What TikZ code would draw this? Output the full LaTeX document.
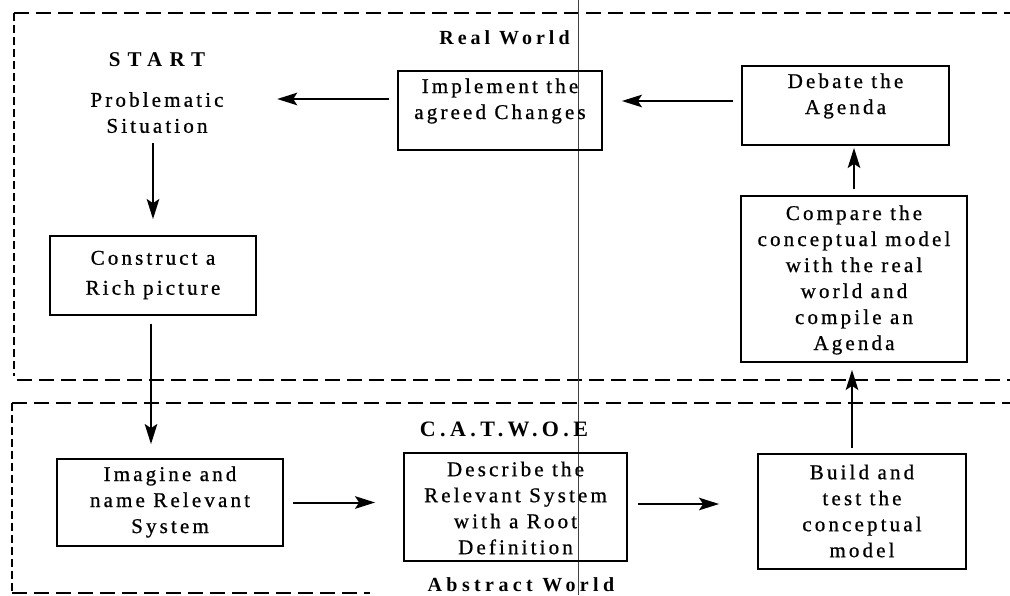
\documentclass[tikz,border=0pt]{standalone}
\usepackage{fontspec}
\setmainfont{Liberation Serif}
\newfontfamily\boxfont[LetterSpace=15,Ligatures=NoCommon,FakeBold=0.8]{Liberation Serif}
\newfontfamily\headfont[LetterSpace=20,Ligatures=NoCommon]{Liberation Serif}
\usetikzlibrary{arrows.meta,calc}

\begin{document}
\begin{tikzpicture}[x=1pt,y=-1pt,
  stage/.style={draw, line width=1.8pt, inner sep=0pt},
  boxtext/.style={align=center, inner sep=0pt, font=\boxfont\fontsize{21}{26}\selectfont},
  heading/.style={inner sep=0pt, font=\headfont\bfseries\fontsize{20}{26}\selectfont},
  region/.style={line width=1.8pt, dash pattern=on 15pt off 7pt},
  regionside/.style={line width=1.8pt, dash pattern=on 8pt off 4pt},
  arr/.style={line width=2pt, -{Stealth[length=20pt,width=12.5pt,inset=4pt]}},
]
\useasboundingbox (0,0) rectangle (1010,595);

% the two worlds
\draw[region] (14,13) -- (1010,13);
\draw[regionside] (14,13) -- (14,376);
\draw[region] (17,380) -- (1010,380);
\draw[region] (12,403) -- (1010,403);
\draw[regionside] (12,403) -- (12,593);
\draw[region] (12,593) -- (370,593);

% thin vertical crease
\draw[line width=0.5pt, black!75] (578,0) -- (578,595);

% headings
\node[heading, font=\headfont\bfseries\fontsize{21}{26}\selectfont\addfontfeature{LetterSpace=34}] (start) at (157,59.5) {START};
\node[heading] (real) at (504.5,38) {Real World};
\node[heading, font=\headfont\bfseries\fontsize{22}{26}\selectfont] (catwoe) at (504,429.5) {C.A.T.W.O.E};
\node[heading, font=\headfont\bfseries\fontsize{20}{26}\selectfont\addfontfeature{LetterSpace=22}] (abstract) at (521,585) {Abstract World};

% stages
\node[boxtext, anchor=north] (prob) at (157,92) {Problematic\\Situation};

\node[stage, minimum width=204pt, minimum height=79pt] (impl) at (500,110.5) {};
\node[boxtext] (impl-t) at (500,101) {Implement the\\agreed Changes};

\node[stage, minimum width=207pt, minimum height=79pt] (debate) at (845.5,105.5) {};
\node[boxtext] (debate-t) at (845.5,96) {Debate the\\Agenda};

\node[stage, minimum width=226pt, minimum height=166pt] (compare) at (854,279) {};
\node[boxtext] (compare-t) at (854,280) {Compare the\\conceptual model\\with the real\\world and\\compile an\\Agenda};

\node[stage, minimum width=206pt, minimum height=79pt] (construct) at (153,275.5) {};
\node[boxtext] (construct-t) at (153,275) {Construct a\\[4pt]Rich picture};

\node[stage, minimum width=226pt, minimum height=87pt] (imagine) at (170,502.5) {};
\node[boxtext] (imagine-t) at (170,502) {Imagine and\\name Relevant\\System};

\node[stage, minimum width=223pt, minimum height=108pt] (describe) at (515.5,507) {};
\node[boxtext] (describe-t) at (515.5,508) {Describe the\\Relevant System\\with a Root\\Definition};

\node[stage, minimum width=208pt, minimum height=115pt] (build) at (862,511.5) {};
\node[boxtext] (build-t) at (862,511) {Build and\\test the\\conceptual\\model};

% flow
\draw[arr] ($(impl.west)+(-8,-11.5)$) -- ($(prob.east |- impl.west)+(53.5,-11.5)$);
\draw[arr] ($(debate.west)+(-8,-4.5)$) -- ($(impl.east |- debate.west)+(19,-4.5)$);
\draw[arr] ($(compare.north)+(0,-6)$) -- ($(compare.north |- debate.south)+(0,2)$);
\draw[arr] ($(construct.north |- prob.south)+(0,10)$) -- ($(construct.north)+(0,-16)$);
\draw[arr] ($(construct.south)+(-2,8)$) -- ($(construct.south |- imagine.north)+(-2,-14)$);
\draw[arr] ($(imagine.east)+(9,0)$) -- ($(describe.west |- imagine.east)+(-28,0)$);
\draw[arr] ($(describe.east)+(10,-3)$) -- ($(build.west |- describe.east)+(-38,-3)$);
\draw[arr] ($(build.north)+(-10,-5)$) -- ($(compare.south -| build.north)+(-10,7)$);
\end{tikzpicture}
\end{document}
